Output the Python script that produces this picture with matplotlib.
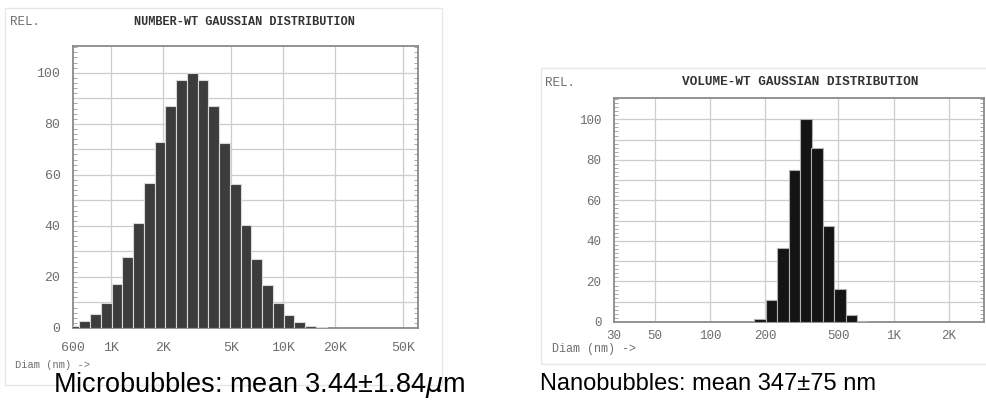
import numpy as np
import matplotlib
matplotlib.use("Agg")
import matplotlib.pyplot as plt
from matplotlib.patches import Rectangle

micro_diam = [609, 703, 812, 938, 1083, 1250, 1444, 1667, 1925, 2223, 2567, 2965,
              3424, 3954, 4566, 5273, 6089, 7032, 8121, 9378, 10830, 12506, 14442, 16678]
micro_rel = [0.9, 2.9, 5.5, 9.9, 17.4, 27.7, 41, 57, 73, 87, 97, 100,
             97, 87, 72.5, 56.5, 40.5, 27, 16.8, 9.9, 5.1, 2.4, 0.9, 0.3]

nano_diam = [187, 216, 249, 288, 332, 383, 442, 510, 588, 677]
nano_rel = [1.6, 10.9, 36.3, 75.2, 100, 85.8, 47.2, 16.3, 3.3, 0.3]

micro_ticks = [600, 1000, 2000, 5000, 10000, 20000, 50000]
micro_labels = ["600", "1K", "2K", "5K", "10K", "20K", "50K"]
nano_ticks = [30, 50, 100, 200, 500, 1000, 2000]
nano_labels = ["30", "50", "100", "200", "500", "1K", "2K"]

MONO = "Liberation Mono"
GRID = "#cdcdcd"
TXT = "#6e6e6e"


def draw_panel(ax, diam, rel, ticks, labels, xlim, face, edge, fs, xpad):
    diam = np.array(diam, dtype=float)
    half = 10 ** (1 / 32)
    ax.set_xscale("log")
    ax.bar(diam / half, rel, width=diam * half - diam / half, align="edge",
           color=face, edgecolor=edge, linewidth=0.8, zorder=3)
    ax.set_xlim(*xlim)
    ax.set_ylim(0, 110.5)

    ax.set_xticks(ticks)
    ax.set_xticklabels(labels)
    ax.xaxis.set_minor_locator(matplotlib.ticker.NullLocator())
    ax.set_yticks(np.arange(0, 101, 10))
    ax.set_yticklabels([str(v) if v % 20 == 0 else "" for v in range(0, 101, 10)])
    ax.set_yticks(np.arange(0, 111, 2), minor=True)

    ax.grid(True, which="major", color=GRID, linewidth=0.9, zorder=0)
    ax.tick_params(which="major", length=0, labelsize=fs, labelcolor=TXT)
    ax.tick_params(axis="y", which="major", pad=9)
    ax.tick_params(axis="x", which="major", pad=xpad)
    ax.tick_params(which="minor", axis="y", direction="in", length=3,
                   left=True, right=True, color="#999999", width=0.6)
    for lab in ax.get_xticklabels() + ax.get_yticklabels():
        lab.set_fontfamily(MONO)
    for s in ax.spines.values():
        s.set_color("#8a8a8a")
        s.set_linewidth(1.3)


fig = plt.figure(figsize=(9.87, 4.03), dpi=100)

# faint frames of the two scanned printouts
fig.patches.append(Rectangle((5 / 987, 1 - 385 / 403), 437 / 987, 377 / 403,
                             transform=fig.transFigure, fill=False,
                             edgecolor="#e6e6e6", linewidth=1))
fig.patches.append(Rectangle((541 / 987, 1 - 364 / 403), 450 / 987, 296 / 403,
                             transform=fig.transFigure, fill=False,
                             edgecolor="#e6e6e6", linewidth=1))

ax1 = fig.add_axes([73 / 987, 75 / 403, 345 / 987, 282 / 403])
draw_panel(ax1, micro_diam, micro_rel, micro_ticks, micro_labels,
           (600, 61000), "#3c3c3c", "#d8d8d8", 9.5, 10)
# the lowest tick sits on the axis edge, no gridline there
ax1.get_xgridlines()[0].set_visible(False)

ax2 = fig.add_axes([614 / 987, 81 / 403, 370 / 987, 224 / 403])
draw_panel(ax2, nano_diam, nano_rel, nano_ticks, nano_labels,
           (30, 3100), "#141414", "#b0b0b0", 9, 6)
ax2.get_xgridlines()[0].set_visible(False)

# printout headers
fig.text(10 / 987, 1 - 22 / 403, "REL.", fontfamily=MONO, fontsize=9,
         color=TXT, va="center")
fig.text(244 / 987, 1 - 22 / 403, "NUMBER-WT GAUSSIAN DISTRIBUTION",
         fontfamily=MONO, fontsize=8.6, fontweight="bold", color="#333333",
         ha="center", va="center")
fig.text(15 / 987, 1 - 365 / 403, "Diam (nm) ->", fontfamily=MONO, fontsize=7.5,
         color=TXT, va="center")

fig.text(545 / 987, 1 - 83 / 403, "REL.", fontfamily=MONO, fontsize=9,
         color=TXT, va="center")
fig.text(800 / 987, 1 - 82 / 403, "VOLUME-WT GAUSSIAN DISTRIBUTION",
         fontfamily=MONO, fontsize=9.2, fontweight="bold", color="#333333",
         ha="center", va="center")
fig.text(552 / 987, 1 - 349 / 403, "Diam (nm) ->", fontfamily=MONO, fontsize=8.5,
         color=TXT, va="center")

# captions
fig.text(53 / 987, 1 - 392 / 403, r"Microbubbles: mean 3.44±1.84$\mu$m",
         fontfamily="Liberation Sans", fontsize=19.5,
         color="black", va="baseline")
fig.text(540 / 987, 1 - 390 / 403, "Nanobubbles: mean 347±75 nm",
         fontfamily="Liberation Sans", fontsize=17, color="black",
         va="baseline")

fig.savefig("out.png", dpi=100)
